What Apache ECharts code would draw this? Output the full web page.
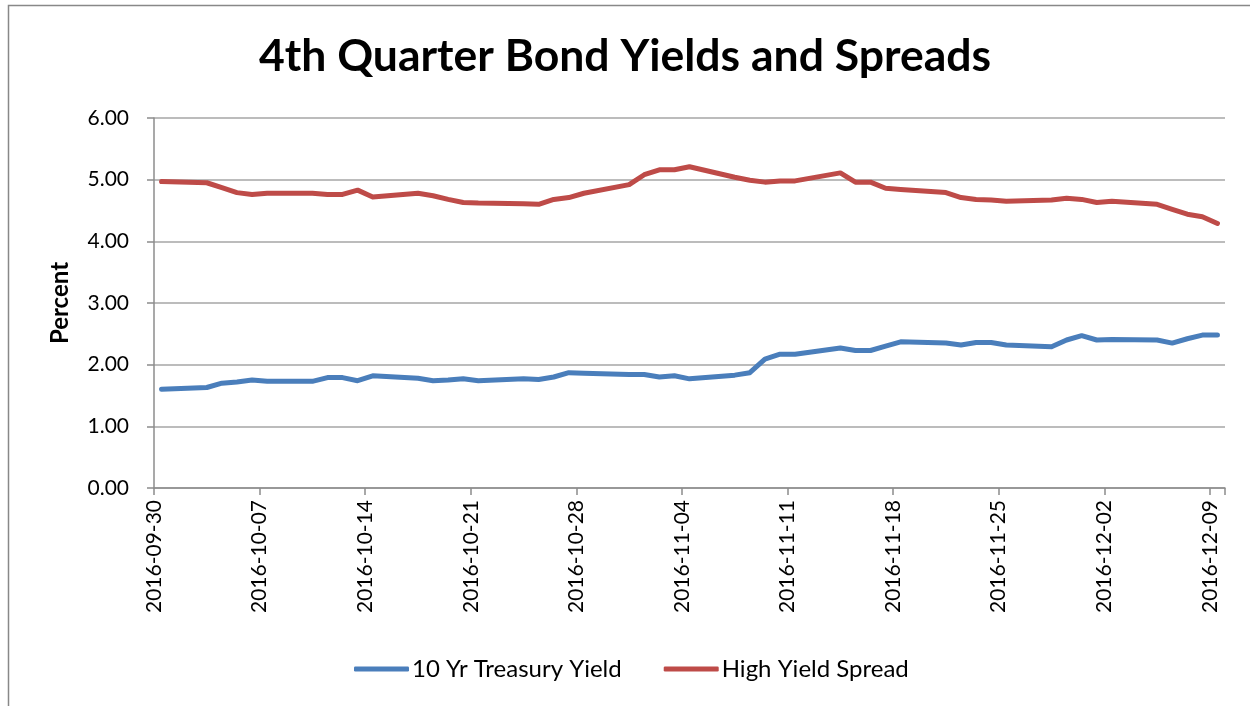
<!DOCTYPE html>
<html>
<head>
<meta charset="utf-8">
<script src="https://cdn.jsdelivr.net/npm/echarts@6/dist/echarts.min.js"></script>
<style>html,body{margin:0;padding:0;background:#fff}#c{width:1250px;height:706px}</style>
</head>
<body>
<div id="c"></div>
<script>
const dates = ['2016-09-30','2016-10-03','2016-10-04','2016-10-05','2016-10-06','2016-10-07',
  '2016-10-10','2016-10-11','2016-10-12','2016-10-13','2016-10-14',
  '2016-10-17','2016-10-18','2016-10-19','2016-10-20','2016-10-21',
  '2016-10-24','2016-10-25','2016-10-26','2016-10-27','2016-10-28',
  '2016-10-31','2016-11-01','2016-11-02','2016-11-03','2016-11-04',
  '2016-11-07','2016-11-08','2016-11-09','2016-11-10','2016-11-11',
  '2016-11-14','2016-11-15','2016-11-16','2016-11-17','2016-11-18',
  '2016-11-21','2016-11-22','2016-11-23','2016-11-24','2016-11-25',
  '2016-11-28','2016-11-29','2016-11-30','2016-12-01','2016-12-02',
  '2016-12-05','2016-12-06','2016-12-07','2016-12-08','2016-12-09'];
const treasury = [1.60,1.63,1.70,1.72,1.75,1.73,
  1.73,1.79,1.79,1.74,1.82,
  1.78,1.74,1.75,1.77,1.74,
  1.77,1.76,1.80,1.87,1.86,
  1.84,1.84,1.80,1.82,1.77,
  1.83,1.87,2.09,2.17,2.17,
  2.27,2.23,2.23,2.30,2.37,
  2.35,2.32,2.36,2.36,2.32,
  2.29,2.40,2.47,2.40,2.41,
  2.40,2.35,2.42,2.48,2.48];
const spread = [4.97,4.95,4.87,4.79,4.76,4.78,
  4.78,4.76,4.76,4.83,4.72,
  4.78,4.74,4.68,4.63,4.62,
  4.61,4.60,4.68,4.71,4.78,
  4.92,5.08,5.16,5.16,5.21,
  5.04,4.99,4.96,4.98,4.98,
  5.11,4.96,4.96,4.86,4.84,
  4.79,4.71,4.68,4.67,4.65,
  4.67,4.70,4.68,4.63,4.65,
  4.60,4.52,4.44,4.40,4.29];
const yTicks = ['0.00','1.00','2.00','3.00','4.00','5.00','6.00'];
const startDate = '2016-09-30';

const DAY = 86400000;
const t0 = Date.parse(startDate);
const off = d => (Date.parse(d) - t0) / DAY + 0.5;
const fmt = v => new Date(t0 + v * DAY).toISOString().slice(0, 10);

const FONT = 'Lato';
const chart = echarts.init(document.getElementById('c'));
chart.setOption({
  backgroundColor: '#fff',
  animation: false,
  title: {
    text: '4th Quarter Bond Yields and Spreads',
    left: 'center', top: 29,
    textStyle: { fontFamily: FONT, fontWeight: 'bold', fontSize: 44.5, color: '#000' }
  },
  graphic: [{
    type: 'rect', shape: { x: 8.5, y: 5.5, width: 1400, height: 800 },
    style: { fill: 'none', stroke: '#888', lineWidth: 1.5 }, silent: true
  }],
  grid: { left: 154, right: 25, top: 118, bottom: 218, containLabel: false },
  legend: {
    bottom: 20, left: 349,
    itemWidth: 55, itemHeight: 5, itemGap: 42,
    icon: 'roundRect',
    textStyle: { fontFamily: FONT, fontSize: 24, color: '#000', padding: [0, 0, 0, -2] },
    data: ['10 Yr Treasury Yield', 'High Yield Spread']
  },
  xAxis: {
    type: 'value', min: 0, max: 71, interval: 7,
    axisLine: { show: true, lineStyle: { color: '#8c8c8c', width: 1.5 } },
    axisTick: { show: true, length: 7, lineStyle: { color: '#8c8c8c', width: 1.5 } },
    splitLine: { show: false },
    axisLabel: {
      rotate: 90, margin: 12, fontFamily: FONT, fontSize: 21, color: '#000',
      formatter: v => (v % 7 === 0 && v <= 70) ? fmt(v) : ''
    }
  },
  yAxis: {
    type: 'value', min: 0, max: 6, interval: 1,
    name: 'Percent', nameLocation: 'middle', nameRotate: 90, nameGap: 82,
    nameTextStyle: { fontFamily: FONT, fontWeight: 'bold', fontSize: 24, color: '#000' },
    axisLine: { show: true, lineStyle: { color: '#8c8c8c', width: 1.5 } },
    axisTick: { show: true, inside: false, length: 7, lineStyle: { color: '#8c8c8c', width: 1.5 } },
    splitLine: { show: true, lineStyle: { color: '#a6a6a6', width: 1.5 } },
    axisLabel: { margin: 25, fontFamily: FONT, fontSize: 21, color: '#000',
      formatter: v => yTicks[Math.round(v)] }
  },
  series: [
    { name: '10 Yr Treasury Yield', type: 'line', showSymbol: false, symbol: 'none',
      data: dates.map((d, i) => [off(d), treasury[i]]),
      itemStyle: { color: '#4a7ebb' },
      lineStyle: { color: '#4a7ebb', width: 5, cap: 'round', join: 'round' } },
    { name: 'High Yield Spread', type: 'line', showSymbol: false, symbol: 'none',
      data: dates.map((d, i) => [off(d), spread[i]]),
      itemStyle: { color: '#be4b48' },
      lineStyle: { color: '#be4b48', width: 5, cap: 'round', join: 'round' } }
  ]
});
</script>
</body>
</html>
